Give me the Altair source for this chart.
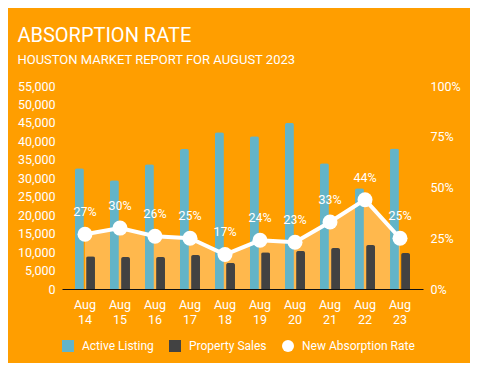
import altair as alt
import pandas as pd

categories = ["Aug 14", "Aug 15", "Aug 16", "Aug 17", "Aug 18",
              "Aug 19", "Aug 20", "Aug 21", "Aug 22", "Aug 23"]
active_listing = [32700, 29450, 33800, 37900, 42450, 41400, 45000, 34050, 27300, 38100]
property_sales = [8850, 8670, 8670, 9200, 7050, 9930, 10300, 11100, 11900, 9750]
absorption_rate = [27, 30, 26, 25, 17, 24, 23, 33, 44, 25]

series_names = ["Active Listing", "Property Sales", "New Absorption Rate"]
series_colors = ["#63B4C8", "#424242", "#FFFFFF"]
series_shapes = ["square", "square", "circle"]

BG = "#FF9E00"
AREA = "#FFB84D"
FONT = "Roboto"

bars_df = pd.DataFrame({
    "category": categories * 2,
    "series": [series_names[0]] * len(categories) + [series_names[1]] * len(categories),
    "value": active_listing + property_sales,
})
rate_df = pd.DataFrame({
    "category": categories,
    "series": [series_names[2]] * len(categories),
    "rate": [r / 100 for r in absorption_rate],
    "label": [f"{r}%" for r in absorption_rate],
})

x_enc = alt.X(
    "category:N",
    sort=categories,
    title=None,
    scale=alt.Scale(paddingInner=0.4286, paddingOuter=0.371),
    axis=alt.Axis(
        labelAngle=0, ticks=False, domain=True, domainColor="#111111", domainWidth=1,
        labelExpr="split(datum.label, ' ')", labelLineHeight=15, labelPadding=9,
        labelBaseline="top", labelColor="white", labelFont=FONT, labelFontSize=12.5,
        grid=False,
    ),
)

color_scale = alt.Scale(domain=series_names, range=series_colors)
shape_scale = alt.Scale(domain=series_names, range=series_shapes)

rate_scale = alt.Scale(domain=[0, 1])

area = alt.Chart(rate_df).mark_area(color=AREA, opacity=1).encode(
    x=x_enc,
    y=alt.Y("rate:Q", scale=rate_scale, axis=None),
)

bars = alt.Chart(bars_df).mark_bar(cornerRadiusTopLeft=2, cornerRadiusTopRight=2).encode(
    x=x_enc,
    xOffset=alt.XOffset("series:N", sort=series_names[:2],
                        scale=alt.Scale(domain=series_names[:2], paddingInner=0.2)),
    y=alt.Y("value:Q", title=None,
            scale=alt.Scale(domain=[0, 55000]),
            axis=alt.Axis(values=list(range(0, 55001, 5000)), format=",.0f", ticks=False,
                          domain=False, grid=False, labelPadding=7, labelColor="white",
                          labelFont=FONT, labelFontSize=12.5, orient="left")),
    color=alt.Color("series:N", scale=color_scale, legend=alt.Legend(title=None)),
)

rate_y = alt.Y("rate:Q", title=None, scale=rate_scale,
               axis=alt.Axis(values=[0, 0.25, 0.5, 0.75, 1], format=".0%", ticks=False,
                             domain=False, grid=False, labelPadding=7, labelColor="white",
                             labelFont=FONT, labelFontSize=12.5, orient="right"))

line = alt.Chart(rate_df).mark_line(color="white", strokeWidth=4).encode(
    x=x_enc, y=rate_y,
)
points = alt.Chart(rate_df).mark_point(filled=True, opacity=1, size=225).encode(
    x=x_enc, y=rate_y,
    color=alt.Color("series:N", scale=color_scale, legend=alt.Legend(title=None)),
    shape=alt.Shape("series:N", scale=shape_scale, legend=alt.Legend(title=None)),
)
labels = alt.Chart(rate_df).mark_text(
    color="white", font=FONT, fontSize=12.5, dy=-18, baseline="alphabetic"
).encode(x=x_enc, y=rate_y, text="label:N")

rate_layer = alt.layer(line, points, labels)

chart = alt.layer(area, bars, rate_layer).resolve_scale(
    y="independent"
).properties(
    width=361, height=203,
    autosize=alt.AutoSizeParams(type="none"),
    padding={"left": 54, "top": 78, "right": 47, "bottom": 74},
    background=BG,
    title=alt.TitleParams(
        text="ABSORPTION RATE",
        subtitle="HOUSTON MARKET REPORT FOR AUGUST 2023",
        anchor="start", font=FONT, fontSize=20, fontWeight="normal", color="white",
        subtitleFont=FONT, subtitleFontSize=13, subtitleColor="white",
        subtitlePadding=8, offset=13,
    ),
).configure_view(strokeWidth=0).configure_legend(
    orient="bottom", direction="horizontal", labelColor="white", labelFont=FONT,
    labelFontSize=12, symbolSize=144, symbolStrokeWidth=0, symbolOpacity=1,
    columnPadding=15, labelOffset=8, offset=14,
)

chart.save("out.html", embed_options={"renderer": "svg", "actions": False})
